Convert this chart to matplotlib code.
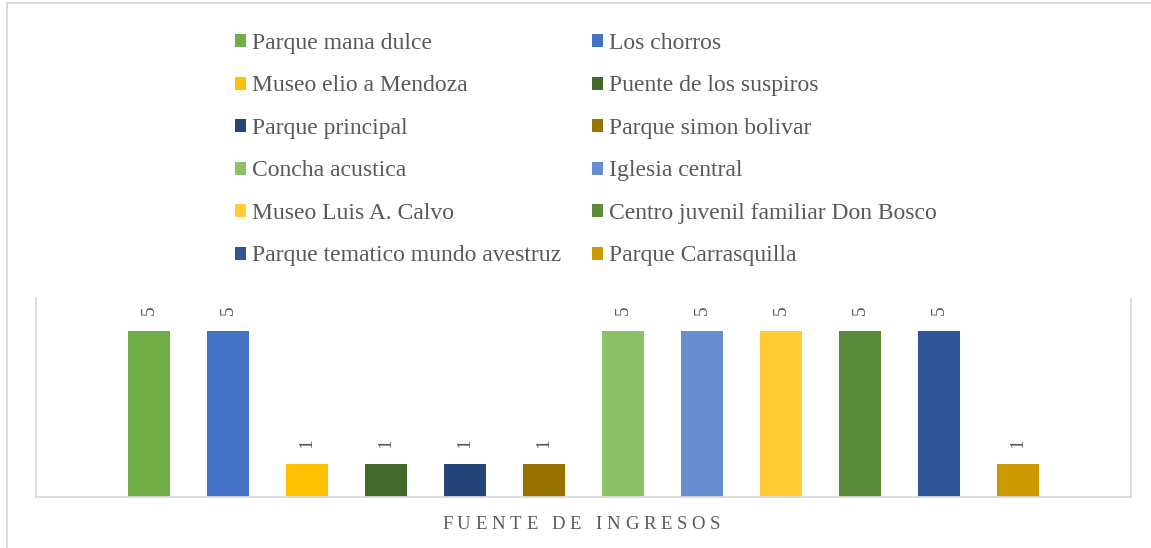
import matplotlib
matplotlib.use("Agg")
import matplotlib.pyplot as plt
from matplotlib.patches import Patch
from matplotlib.lines import Line2D

plt.rcParams['font.family'] = ['Liberation Serif', 'DejaVu Serif']

categories = [
    "Parque mana dulce", "Los chorros", "Museo elio a Mendoza",
    "Puente de los suspiros", "Parque principal", "Parque simon bolivar",
    "Concha acustica", "Iglesia central", "Museo Luis A. Calvo",
    "Centro juvenil familiar Don Bosco", "Parque tematico mundo avestruz",
    "Parque Carrasquilla",
]
values = [5, 5, 1, 1, 1, 1, 5, 5, 5, 5, 5, 1]
colors = [
    "#70AD47", "#4472C4", "#FFC000", "#43682B", "#264478", "#997300",
    "#8CC168", "#698ED0", "#FFCD33", "#5A8A3A", "#2F5597", "#CC9A00",
]
axis_title = "FUENTE DE INGRESOS"

W, H = 1151, 548
fig = plt.figure(figsize=(W / 100, H / 100), dpi=100)
fig.patch.set_facecolor("white")

# outer chart border (left and top visible)
grey = "#D9D9D9"
fig.add_artist(Line2D([7 / W, 7 / W], [0, 1 - 3 / H], transform=fig.transFigure, color=grey, lw=1.3))
fig.add_artist(Line2D([7 / W, 1], [1 - 3 / H, 1 - 3 / H], transform=fig.transFigure, color=grey, lw=1.3))

ax = fig.add_axes([36 / W, 51 / H, (1131 - 36) / W, (497 - 298) / H])
x = list(range(len(values)))
bars = ax.bar(x, values, width=0.532, color=colors)
ax.set_xlim(-1.43, 12.43)
ax.set_ylim(0, 6)
ax.set_xticks([])
ax.set_yticks([])
for s in ["left", "right", "bottom"]:
    ax.spines[s].set_color(grey)
    ax.spines[s].set_linewidth(1.3)
ax.spines["top"].set_visible(False)

for b, v in zip(bars, values):
    ax.annotate(str(v), (b.get_x() + b.get_width() / 2, v), xytext=(0, 15),
                textcoords="offset points", rotation=90, ha="center", va="center",
                fontsize=14, color="#595959")

# legend, row-wise order in 2 columns
order = list(range(0, 12, 2)) + list(range(1, 12, 2))
handles = [Patch(facecolor=colors[i], edgecolor="none") for i in order]
labels = [categories[i] for i in order]
leg = fig.legend(handles, labels, ncol=2, loc="upper left",
                 bbox_to_anchor=(235 / W, 1 - 33 / H), frameon=False,
                 fontsize=17, labelcolor="#595959", borderpad=0, borderaxespad=0,
                 handlelength=0.47, handleheight=0.47, handletextpad=0.25,
                 columnspacing=1.31, labelspacing=0.91)

# letter-spaced axis title
fig.canvas.draw()
renderer = fig.canvas.get_renderer()
fs = 13.5
chars = []
widths = []
for ch in axis_title:
    t = fig.text(0, 0, ch if ch != " " else "\u00a0", fontsize=fs, color="#595959",
                 va="baseline")
    bb = t.get_window_extent(renderer)
    widths.append(bb.width if ch != " " else fs * 100 / 72 * 0.25)
    chars.append(t)
target_w = 720 - 442
extra = (target_w - sum(widths)) / (len(axis_title) - 1)
cx = 442
for t, w in zip(chars, widths):
    t.set_position((cx / W, 1 - 529 / H))
    cx += w + extra

fig.savefig("out.png", dpi=100)
